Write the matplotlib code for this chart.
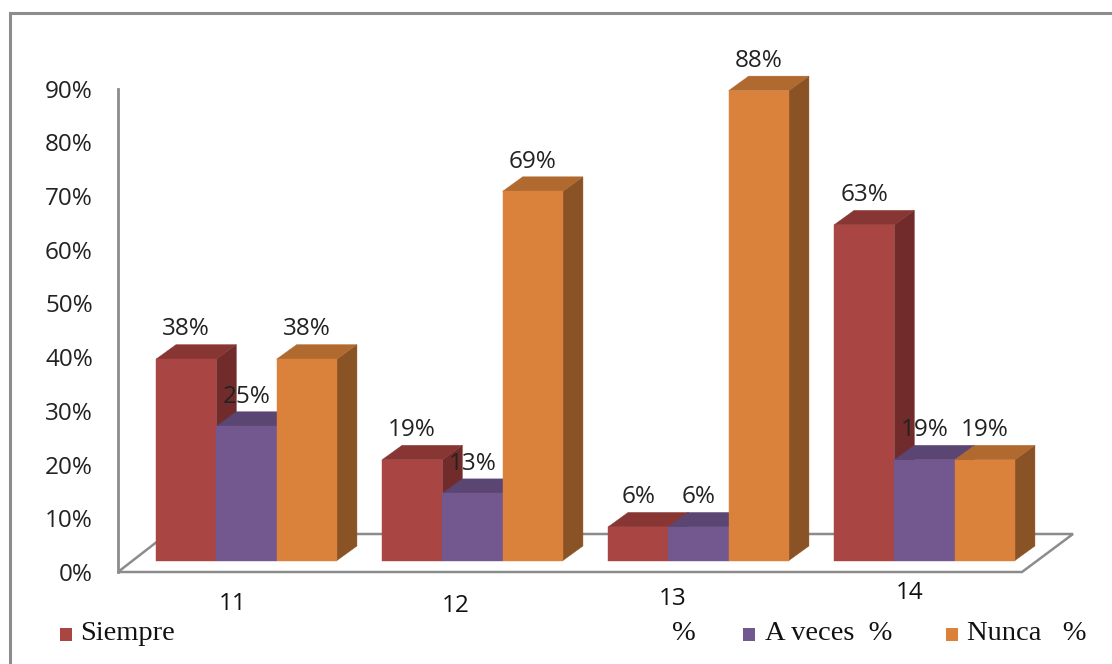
import matplotlib
matplotlib.use("Agg")
import matplotlib.pyplot as plt
from matplotlib.patches import Polygon, Rectangle
import numpy as np

# ---------------- data ----------------
categories = ["11", "12", "13", "14"]
series_names = ["Siempre", "A veces", "Nunca"]
siempre = [37.5, 18.75, 6.25, 62.5]
a_veces = [25.0, 12.5, 6.25, 18.75]
nunca = [37.5, 68.75, 87.5, 18.75]
y_ticks = [0, 10, 20, 30, 40, 50, 60, 70, 80, 90]

series = [siempre, a_veces, nunca]

# ---------------- style ----------------
W, H = 1112, 664
front_cols = ["#A94542", "#72588E", "#DA813C"]
top_cols = ["#873634", "#5B4573", "#B0692F"]
side_cols = ["#712B2A", "#4E3A63", "#8A5326"]
grey = "#8C8C8C"
sans = ["Open Sans", "DejaVu Sans"]
serif = ["Liberation Serif", "DejaVu Serif"]
fs = 17.5

fig = plt.figure(figsize=(W / 100, H / 100), dpi=100)

# layout in pixels
x0_px, px_per_cat = 246.5, 226.0
base_px = 560.5          # bar baseline (from top)
px_per_pct = 5.37
axis_x_px, axis_y0_px = 118, 572
bar_w = 60.3 / px_per_cat
dx = 20.0 / px_per_cat
dy = 14.5 / px_per_pct

# wall / axis axes
wall_h = 90 * px_per_pct
axw = fig.add_axes([axis_x_px / W, (H - axis_y0_px) / H, (1022 - axis_x_px) / W, wall_h / H])
axw.set_ylim(0, 90)
axw.set_xlim(0, 1)
axw.set_facecolor("none")
for s in ["top", "right", "bottom"]:
    axw.spines[s].set_visible(False)
axw.spines["left"].set_color(grey)
axw.spines["left"].set_linewidth(2)
axw.set_xticks([])
axw.set_yticks(y_ticks)
axw.set_yticklabels([f"{t}%" for t in y_ticks], fontfamily=sans, fontsize=fs, color="#222222")
axw.tick_params(axis="y", length=0, pad=18)

# floor
fw = 1022 - axis_x_px
floor = Polygon([(0, 0), (1, 0), (1 + 51 / fw, 38 / wall_h), (49 / fw, 38 / wall_h)],
                closed=True, transform=axw.transAxes, facecolor="white",
                edgecolor=grey, linewidth=1.8, clip_on=False, zorder=0)
axw.add_patch(floor)

# bars axes
axb = fig.add_axes([0, 0, 1, 1])
axb.set_facecolor("none")
axb.axis("off")
axb.set_xlim(-x0_px / px_per_cat, (W - x0_px) / px_per_cat)
axb.set_ylim(-(H - base_px) / px_per_pct, base_px / px_per_pct)

xc = np.arange(len(categories))
for ci in range(len(categories)):
    for si in range(3):
        v = series[si][ci]
        xl = xc[ci] + (si - 1) * bar_w - bar_w / 2
        xr = xl + bar_w
        side = Polygon([(xr, 0), (xr, v), (xr + dx, v + dy), (xr + dx, dy)],
                       closed=True, facecolor=side_cols[si], edgecolor=side_cols[si], linewidth=0.3)
        top = Polygon([(xl, v), (xr, v), (xr + dx, v + dy), (xl + dx, v + dy)],
                      closed=True, facecolor=top_cols[si], edgecolor=top_cols[si], linewidth=0.3)
        axb.add_patch(side)
        axb.add_patch(top)
        axb.bar(xl + bar_w / 2, v, width=bar_w, color=front_cols[si], edgecolor=front_cols[si],
                linewidth=0.3)
        axb.text(xl + bar_w / 2, v + dy + 0.6, f"{int(np.floor(v + 0.5))}%", ha="center", va="bottom",
                 fontfamily=sans, fontsize=fs, color="#222222")

# category labels
cat_dx = [-14, -17, -26, -15]
cat_y = [604, 606, 599, 593]
for ci, lab in enumerate(categories):
    xpx = x0_px + px_per_cat * ci + cat_dx[ci]
    fig.text(xpx / W, 1 - cat_y[ci] / H, lab, ha="center", va="center",
             fontfamily=sans, fontsize=fs, color="#111111")

# legend (manual)
leg_y = 634
leg_items = [(60, 80, "Siempre"), (743, 765, "A veces  %"), (946, 967, "Nunca   %")]
for si, (sx, tx, lab) in enumerate(leg_items):
    fig.patches.append(Rectangle((sx / W, 1 - (leg_y + 6.5) / H), 12 / W, 13 / H,
                                 transform=fig.transFigure, facecolor=front_cols[si],
                                 edgecolor="none"))
    fig.text(tx / W, 1 - leg_y / H, lab, ha="left", va="center", fontfamily=serif,
             fontsize=20.5, color="#111111")
fig.text(672 / W, 1 - leg_y / H, "%", ha="left", va="center", fontfamily=serif,
         fontsize=20.5, color="#111111")

# outer border
fig.patches.append(Rectangle((9.5 / W, -0.05), 1.2, 1 - 12.5 / H + 0.05, transform=fig.transFigure,
                             facecolor="none", edgecolor=grey, linewidth=2.2))

fig.savefig("out.png", dpi=100)
